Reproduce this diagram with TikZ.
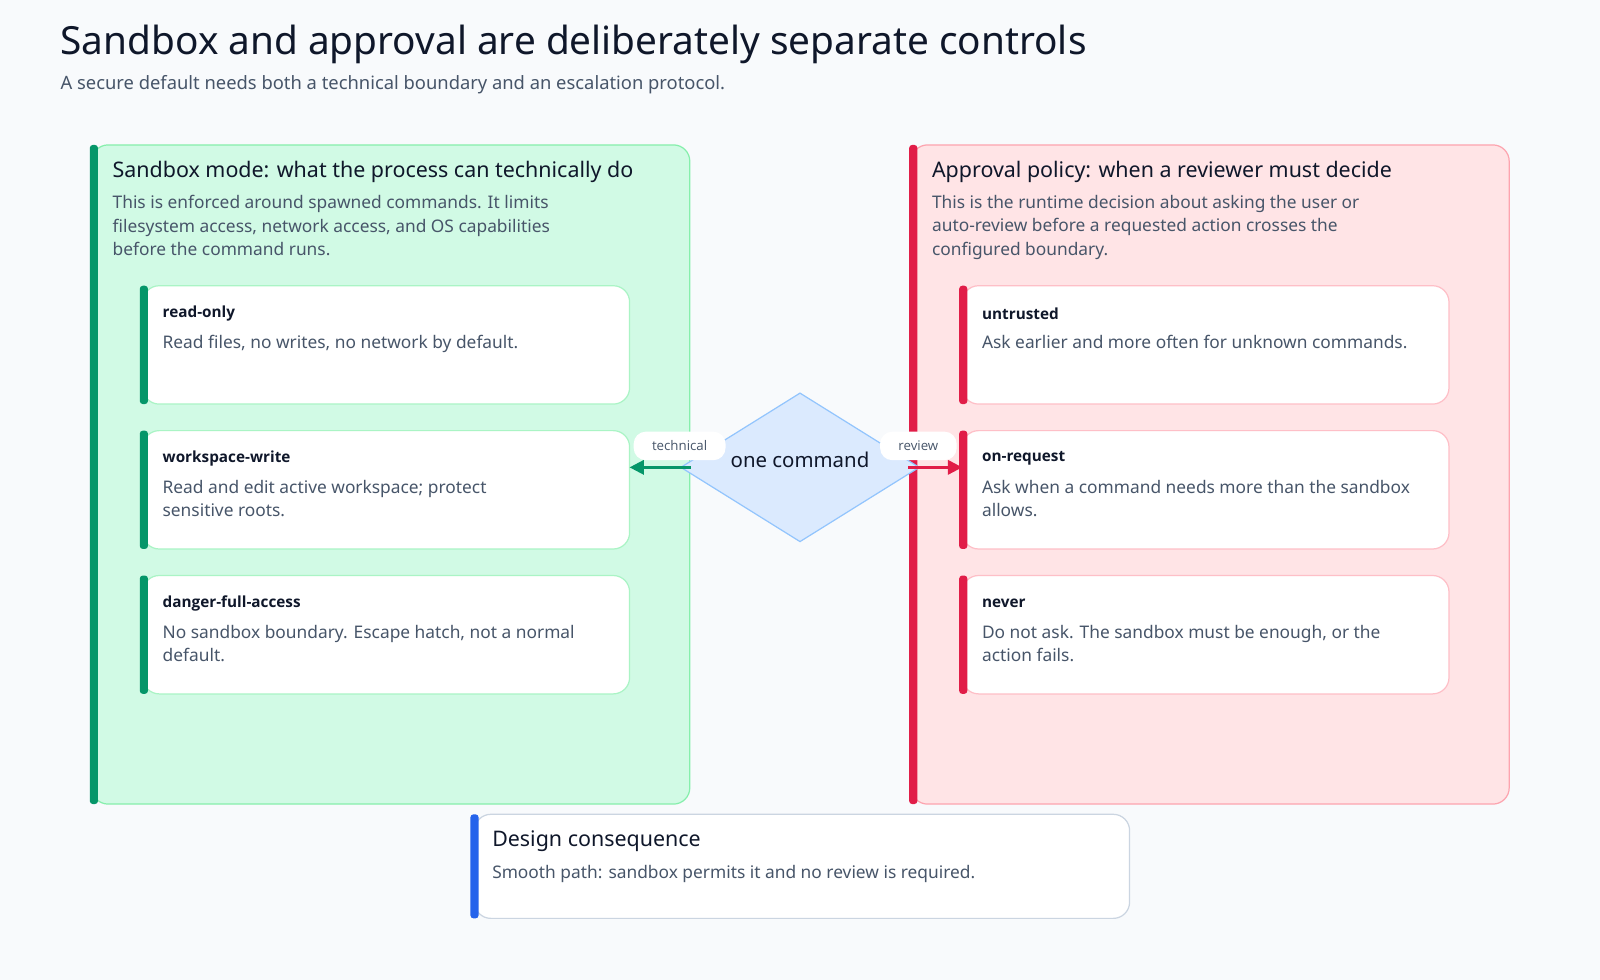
\documentclass[tikz,border=0pt]{standalone}
\usepackage{fontspec}
\setmainfont{Noto Sans}
\newfontfamily\cardfont{Open Sans}
\usetikzlibrary{shapes.geometric,arrows.meta,positioning}

\definecolor{ink}{HTML}{0F172A}
\definecolor{slate}{HTML}{475569}
\definecolor{pagebg}{HTML}{F8FAFC}
\definecolor{sbfill}{HTML}{D1FAE5}
\definecolor{sbline}{HTML}{86EFAC}
\definecolor{sbbar}{HTML}{059669}
\definecolor{apfill}{HTML}{FFE4E6}
\definecolor{apline}{HTML}{FDA4AF}
\definecolor{apbar}{HTML}{E11D48}
\definecolor{cmdfill}{HTML}{DBEAFE}
\definecolor{cmdline}{HTML}{93C5FD}
\definecolor{dcline}{HTML}{CBD5E1}
\definecolor{dcbar}{HTML}{2563EB}

\tikzset{
    panel/.style={rounded corners=8pt, line width=0.6pt},
    card/.style={rounded corners=8pt, fill=white, line width=0.6pt},
    bar/.style={rounded corners=1.5pt},
    head/.style={anchor=west, font=\fontsize{10.5}{13}\selectfont\bfseries, text=ink, inner sep=0},
    body/.style={anchor=north west, align=left, font=\fontsize{8.5}{11.5}\selectfont, text=slate, inner sep=0},
    cardhead/.style={anchor=west, font=\cardfont\fontsize{7.5}{9}\selectfont\bfseries, text=ink, inner sep=0},
    pill/.style={fill=white, rounded corners=6pt, font=\cardfont\fontsize{6.5}{8}\selectfont, text=slate, minimum height=14pt, inner xsep=9pt},
}

\begin{document}
\begin{tikzpicture}[x=0.5pt, y=-0.5pt]

    \fill[pagebg] (0,0) rectangle (1568,960);
    \useasboundingbox (0,0) rectangle (1568,960);

    % Title
    \node[anchor=west, inner sep=0, font=\fontsize{19}{23}\selectfont\bfseries, text=ink] (title) at (59,44) {Sandbox and approval are deliberately separate controls};
    \node[anchor=west, inner sep=0, font=\fontsize{9}{11}\selectfont, text=slate] (subtitle) at (59,83) {A secure default needs both a technical boundary and an escalation protocol.};

    % Sandbox panel
    \draw[panel, fill=sbfill, draw=sbline] (90,142) rectangle (676,788);
    \fill[bar, sbbar] (88,142) rectangle (96,788);
    \node[head] (sbhead) at (110,168) {Sandbox mode: what the process can technically do};
    \node[body] (sbbody) at (110,191) {This is enforced around spawned commands. It limits\\filesystem access, network access, and OS capabilities\\before the command runs.};

    % Approval panel
    \draw[panel, fill=apfill, draw=apline] (893,142) rectangle (1479,788);
    \fill[bar, apbar] (891,142) rectangle (899,788);
    \node[head] (aphead) at (913,168) {Approval policy: when a reviewer must decide};
    \node[body] (apbody) at (913,191) {This is the runtime decision about asking the user or\\auto-review before a requested action crosses the\\configured boundary.};

    % Cards
    \foreach \y/\name/\title/\text in {
        280/ro/read-only/{Read files, no writes, no network by default.},
        422/ws/workspace-write/{Read and edit active workspace; protect\\sensitive roots.},
        564/dfa/danger-full-access/{No sandbox boundary. Escape hatch, not a normal\\default.}}
        {
            \draw[card, draw=sbline!70] (140,\y) rectangle (617,\y+116);
            \coordinate (\name) at (617,\y+58);
            \fill[bar, sbbar] (137,\y) rectangle (145,\y+116);
            \node[cardhead] at (159,\y+27) {\title};
            \node[body] at (159,\y+48) {\text};
        }
    \foreach \y/\name/\title/\text in {
        280/ut/untrusted/{Ask earlier and more often for unknown commands.},
        422/or/on-request/{Ask when a command needs more than the sandbox\\allows.},
        564/nv/never/{Do not ask. The sandbox must be enough, or the\\action fails.}}
        {
            \draw[card, draw=apline!70] (943,\y) rectangle (1420,\y+116);
            \coordinate (\name) at (943,\y+36);
            \fill[bar, apbar] (940,\y) rectangle (948,\y+116);
            \node[cardhead] at (962,\y+27) {\title};
            \node[body] at (962,\y+48) {\text};
        }

    % Command
    \node[diamond, aspect=1.6, fill=cmdfill, draw=cmdline, line width=0.6pt, minimum width=117pt, minimum height=73pt, inner sep=0,
          font=\fontsize{10}{12}\selectfont\bfseries, text=ink] (cmd) at (784,458) {};
    \node[inner sep=0, font=\fontsize{10}{12}\selectfont\bfseries, text=ink] (cmdtext) at (784,451) {one command};
    \draw[sbbar, line width=1.2pt, -{Triangle[length=7pt,width=7pt]}] (677,458) -- (ws |- 0,458);
    \draw[apbar, line width=1.2pt, -{Triangle[length=7pt,width=7pt]}] (890,458) -- (or |- 0,458);
    \node[pill] (tech) at (666,437) {technical};
    \node[pill] (rev) at (900,437) {review};

    % Design consequence
    \draw[card, draw=dcline] (465,798) rectangle (1107,900);
    \fill[bar, dcbar] (461,798) rectangle (469,900);
    \node[head] (dchead) at (482,824) {Design consequence};
    \node[body] (dcbody) at (482,848) {Smooth path: sandbox permits it and no review is required.};

\end{tikzpicture}
\end{document}
